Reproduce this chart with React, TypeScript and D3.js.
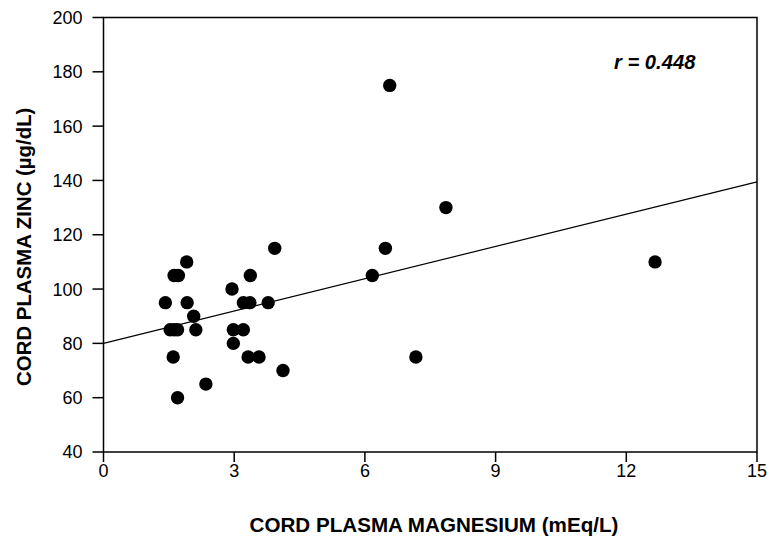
import React from "react";
import * as d3 from "d3";

const magnesium = [1.91, 1.62, 1.72, 1.42, 1.92, 2.07, 1.53, 1.62, 1.7, 2.12, 2.95, 3.37, 3.21, 3.36, 3.78, 3.93, 2.98, 3.21, 2.98, 1.6, 3.32, 3.57, 4.12, 2.35, 1.7, 6.57, 7.86, 6.47, 6.17, 7.17, 12.66];
const zinc = [110, 105, 105, 95, 95, 90, 85, 85, 85, 85, 100, 105, 95, 95, 95, 115, 85, 85, 80, 75, 75, 75, 70, 65, 60, 175, 130, 115, 105, 75, 110];
const fitX = [0, 15];
const fitY = [80.0, 139.5];
const xTicks = [0, 3, 6, 9, 12, 15];
const yTicks = [40, 60, 80, 100, 120, 140, 160, 180, 200];
const xTitle = "CORD PLASMA MAGNESIUM (mEq/L)";
const yTitle = "CORD PLASMA ZINC (µg/dL)";
const rLabel = "r = 0.448";

export default function App() {
  const W = 774, H = 539;
  const left = 103.5, right = 757, top = 17.5, bottom = 452;
  const x = d3.scaleLinear().domain([0, 15]).range([left, right]);
  const y = d3.scaleLinear().domain([40, 200]).range([bottom, top]);
  const line = d3.line<number>().x((_, i) => x(fitX[i])).y((d) => y(d));
  const font = "'Liberation Sans', Arial, sans-serif";
  return (
    <svg width={W} height={H} style={{ position: "absolute", left: 0, top: 0, background: "#fff" }} fontFamily={font}>
      <rect x={0} y={0} width={W} height={H} fill="#fff" />
      <path d={line(fitY) || ""} stroke="#000" strokeWidth={1.2} fill="none" />
      {magnesium.map((m, i) => (
        <circle key={i} cx={x(m)} cy={y(zinc[i])} r={6.7} fill="#000" />
      ))}
      <rect x={left} y={top} width={right - left} height={bottom - top} fill="none" stroke="#000" strokeWidth={1.5} />
      {yTicks.map((t) => (
        <g key={t}>
          <line x1={left - 11} x2={left} y1={y(t)} y2={y(t)} stroke="#000" strokeWidth={1.5} />
          <text x={left - 21} y={y(t)} dy="0.36em" textAnchor="end" fontSize={18}>{t}</text>
        </g>
      ))}
      {xTicks.map((t) => (
        <g key={t}>
          <line x1={x(t)} x2={x(t)} y1={bottom} y2={bottom + 10} stroke="#000" strokeWidth={1.5} />
          <text x={x(t)} y={bottom + 25} textAnchor="middle" fontSize={18}>{t}</text>
        </g>
      ))}
      <text x={434} y={531.5} textAnchor="middle" fontSize={20.6} fontWeight="bold">{xTitle}</text>
      <text transform={`translate(31, ${(top + bottom) / 2 + 12}) rotate(-90)`} textAnchor="middle" fontSize={20.4} fontWeight="bold">{yTitle}</text>
      <text x={614} y={69} fontSize={20.2} fontWeight="bold" fontStyle="italic">{rLabel}</text>
    </svg>
  );
}
